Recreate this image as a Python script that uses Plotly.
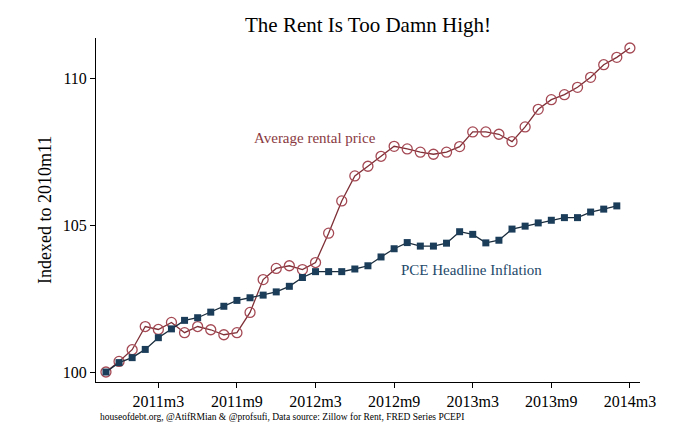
import plotly.graph_objects as go

months = ["2010m11", "2010m12",
          "2011m1", "2011m2", "2011m3", "2011m4", "2011m5", "2011m6",
          "2011m7", "2011m8", "2011m9", "2011m10", "2011m11", "2011m12",
          "2012m1", "2012m2", "2012m3", "2012m4", "2012m5", "2012m6",
          "2012m7", "2012m8", "2012m9", "2012m10", "2012m11", "2012m12",
          "2013m1", "2013m2", "2013m3", "2013m4", "2013m5", "2013m6",
          "2013m7", "2013m8", "2013m9", "2013m10", "2013m11", "2013m12",
          "2014m1", "2014m2", "2014m3"]

rent = [100.00, 100.36, 100.76, 101.55, 101.45, 101.69, 101.34, 101.55,
        101.44, 101.27, 101.34, 102.03, 103.15, 103.53, 103.62, 103.49,
        103.73, 104.73, 105.83, 106.68, 107.01, 107.35, 107.69, 107.60,
        107.49, 107.42, 107.49, 107.68, 108.18, 108.18, 108.10, 107.85,
        108.35, 108.95, 109.28, 109.45, 109.70, 110.04, 110.47, 110.72,
        111.04]

pce = [100.00, 100.32, 100.49, 100.77, 101.17, 101.47, 101.76, 101.85,
       102.04, 102.24, 102.44, 102.53, 102.62, 102.73, 102.92, 103.22,
       103.42, 103.42, 103.42, 103.51, 103.62, 103.92, 104.20, 104.41,
       104.29, 104.29, 104.39, 104.78, 104.69, 104.40, 104.49, 104.87,
       104.97, 105.08, 105.17, 105.26, 105.26, 105.45, 105.55, 105.66]

x_tick_labels = ["2011m3", "2011m9", "2012m3", "2012m9", "2013m3", "2013m9", "2014m3"]
y_ticks = [100, 105, 110]

x_rent = list(range(len(rent)))
x_pce = list(range(len(pce)))
x_tickvals = [months.index(t) for t in x_tick_labels]

SERIF = "Liberation Serif, Times New Roman, serif"
RENT_LINE = "#7e2f36"
RENT_MARK = "#a54a55"
PCE_COL = "#1b3d5a"

# page body has an 8px default margin; figure sized to fit the 700x443 window
W, H = 692, 435
L, T = 88, 30
PW, PH = 544, 344

fig = go.Figure()
fig.add_trace(go.Scatter(
    x=x_rent, y=rent, mode="lines+markers", name="Average rental price",
    line=dict(color=RENT_LINE, width=1.3),
    marker=dict(symbol="circle-open", size=10, color=RENT_MARK, line=dict(width=1.3, color=RENT_MARK)),
))
fig.add_trace(go.Scatter(
    x=x_pce, y=pce, mode="lines+markers", name="PCE Headline Inflation",
    line=dict(color="#1a2c3c", width=1.3),
    marker=dict(symbol="square", size=7, color=PCE_COL),
))

fig.update_layout(
    width=W, height=H,
    margin=dict(l=L, r=W - L - PW, t=T, b=H - T - PH),
    paper_bgcolor="white", plot_bgcolor="white",
    showlegend=False,
    font=dict(family=SERIF, color="black", size=16),
    title=dict(text="The Rent Is Too Damn High!", x=360 / W, xanchor="center",
               y=1 - 17 / H, yanchor="middle", xref="container", yref="container",
               font=dict(family=SERIF, size=21, color="black")),
    xaxis=dict(range=[-0.76, 40.77], tickmode="array", tickvals=x_tickvals, ticktext=x_tick_labels,
               showgrid=False, zeroline=False, showline=True, linecolor="black", linewidth=1,
               ticks="outside", ticklen=5, tickcolor="black", tickfont=dict(size=16, family=SERIF)),
    yaxis=dict(range=[99.66, 111.38], tickmode="array", tickvals=y_ticks,
               showgrid=False, zeroline=False, showline=True, linecolor="black", linewidth=1,
               ticks="outside", ticklen=5, tickcolor="black", tickfont=dict(size=16, family=SERIF)),
    annotations=[
        dict(text="Average rental price", x=15.96, y=107.96, xref="x", yref="y",
             showarrow=False, font=dict(family=SERIF, size=15, color="#8a3a42")),
        dict(text="PCE Headline Inflation", x=27.9, y=103.47, xref="x", yref="y",
             showarrow=False, font=dict(family=SERIF, size=15, color="#24496a")),
        dict(text="Indexed to 2010m11", x=(37 - L) / PW, y=0.5, xref="paper", yref="paper",
             textangle=-90, showarrow=False, xanchor="center", yanchor="middle",
             font=dict(family=SERIF, size=18, color="black")),
        dict(text="houseofdebt.org, @AtifRMian & @profsufi, Data source: Zillow for Rent, FRED Series PCEPI",
             x=(90 - L) / PW, y=(374 - 409) / PH, xref="paper", yref="paper",
             xanchor="left", yanchor="middle", showarrow=False,
             font=dict(family=SERIF, size=9.5, color="black")),
    ],
)

fig.write_html("out.html")
